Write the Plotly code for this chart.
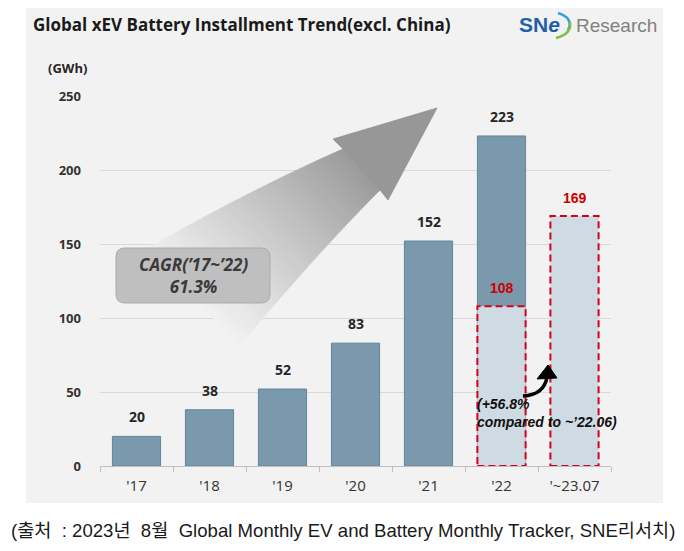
import plotly.graph_objects as go

# ---------------- data ----------------
categories = ["'17", "'18", "'19", "'20", "'21", "'22", "'~23.07"]
annual_values = [20, 38, 52, 83, 152, 223, None]
partial_values = [None, None, None, None, None, 108, 169]
y_ticks = [0, 50, 100, 150, 200, 250]
cagr_text = "CAGR(’17~’22)<br>61.3%"
growth_text = "(+56.8%<br>compared to ~’22.06)"
title_text = "Global xEV Battery Installment Trend(excl. China)"
unit_text = "(GWh)"
source_text = "(출처\u00a0\u00a0: 2023년\u00a0\u00a08월\u00a0\u00a0Global Monthly EV and Battery Monthly Tracker, SNE리서치)"

# ---------------- geometry helpers (screen pixel -> paper) ----------------
# the page body has an 8px margin, so the figure is drawn 8px in from the window
OFF = 8
W, H = 684 - OFF, 551 - OFF
PL, PR, PT, PB = 100, 611, 96, 466   # plot area in screen pixels


def px(x):
    return (x - PL) / (PR - PL)


def py(y):
    return (PB - y) / (PB - PT)


def path_from(points, close=True):
    s = "M " + " L ".join(f"{px(x):.5f},{py(y):.5f}" for x, y in points)
    return s + (" Z" if close else "")


BG = "#f2f2f2"
DARK = "#7a99ac"
LIGHT = "#cfdbe3"
RED = "#d9001b"
BAR_W = 0.66

fig = go.Figure()

fig.add_trace(go.Bar(
    x=categories, y=annual_values, width=BAR_W,
    marker=dict(color=DARK, line=dict(color="#62849a", width=1)),
    hoverinfo="skip", showlegend=False,
))
fig.add_trace(go.Bar(
    x=categories, y=partial_values, width=BAR_W,
    marker=dict(color=LIGHT, line=dict(width=0)),
    hoverinfo="skip", showlegend=False,
))

shapes = []
# grey panel
shapes.append(dict(type="rect", xref="paper", yref="paper",
                   x0=px(26), x1=px(663), y0=py(503), y1=py(8),
                   fillcolor=BG, line=dict(width=0), layer="below"))

# ---- gradient arrow (decoration) ----
def lerp(a, b, t):
    return (a[0] + (b[0] - a[0]) * t, a[1] + (b[1] - a[1]) * t)


def bez(p0, c, p1, t):
    a = lerp(p0, c, t)
    b = lerp(c, p1, t)
    return lerp(a, b, t)


u0, uc, u1 = (145, 250), (250, 190), (343, 149)
l0, lc, l1 = (240, 345), (318, 252), (380, 190)
N = 36
bgc = (242, 242, 242)
dk = (155, 155, 155)
for i in range(N):
    t0, t1 = i / N, (i + 1) / N
    a0, a1 = bez(u0, uc, u1, t0), bez(u0, uc, u1, t1)
    b0, b1 = bez(l0, lc, l1, t0), bez(l0, lc, l1, t1)
    tm = ((t0 + t1) / 2) ** 1.0
    col = tuple(int(bgc[k] + (dk[k] - bgc[k]) * tm) for k in range(3))
    c = "rgb(%d,%d,%d)" % col
    shapes.append(dict(type="path", xref="paper", yref="paper",
                       path=path_from([a0, a1, b1, b0]),
                       fillcolor=c, line=dict(color=c, width=0.8), layer="above"))
shapes.append(dict(type="path", xref="paper", yref="paper",
                   path=path_from([(343, 149), (333, 139), (437, 108), (388, 200), (380, 190)]),
                   fillcolor="#979797", line=dict(color="#929292", width=0.8), layer="above"))

# ---- CAGR rounded box ----
bx0, bx1, by0, by1, r = 116, 270, 248, 303, 9
box = (f"M {px(bx0 + r):.5f},{py(by0):.5f} L {px(bx1 - r):.5f},{py(by0):.5f} "
       f"Q {px(bx1):.5f},{py(by0):.5f} {px(bx1):.5f},{py(by0 + r):.5f} "
       f"L {px(bx1):.5f},{py(by1 - r):.5f} "
       f"Q {px(bx1):.5f},{py(by1):.5f} {px(bx1 - r):.5f},{py(by1):.5f} "
       f"L {px(bx0 + r):.5f},{py(by1):.5f} "
       f"Q {px(bx0):.5f},{py(by1):.5f} {px(bx0):.5f},{py(by1 - r):.5f} "
       f"L {px(bx0):.5f},{py(by0 + r):.5f} "
       f"Q {px(bx0):.5f},{py(by0):.5f} {px(bx0 + r):.5f},{py(by0):.5f} Z")
shapes.append(dict(type="path", xref="paper", yref="paper", path=box,
                   fillcolor="#bfbfbf", line=dict(color="#ababab", width=1), layer="above"))

# ---- dashed red outlines around partial bars ----
for i, v in enumerate(partial_values):
    if v is not None:
        shapes.append(dict(type="rect", xref="x", yref="y",
                           x0=i - BAR_W / 2, x1=i + BAR_W / 2, y0=0, y1=v,
                           line=dict(color=RED, width=2, dash="7px,4px"),
                           fillcolor="rgba(0,0,0,0)", layer="above"))

# ---- small curved black arrow ----
shapes.append(dict(type="path", xref="paper", yref="paper",
                   path=(f"M {px(523):.5f},{py(396):.5f} Q {px(544):.5f},{py(395):.5f} "
                         f"{px(547):.5f},{py(377):.5f}"),
                   line=dict(color="black", width=3.5), layer="above"))
shapes.append(dict(type="path", xref="paper", yref="paper",
                   path=path_from([(537, 379), (548, 365), (557, 378)]),
                   fillcolor="black", line=dict(color="black", width=1), layer="above"))

# ---- logo arcs ----
shapes.append(dict(type="path", xref="paper", yref="paper",
                   path=(f"M {px(558):.5f},{py(13):.5f} Q {px(574):.5f},{py(18):.5f} "
                         f"{px(568):.5f},{py(30):.5f}"),
                   line=dict(color="#3aa0dc", width=2.5), layer="above"))
shapes.append(dict(type="path", xref="paper", yref="paper",
                   path=(f"M {px(570):.5f},{py(22):.5f} Q {px(572):.5f},{py(34):.5f} "
                         f"{px(556):.5f},{py(38):.5f}"),
                   line=dict(color="#7ac143", width=2.5), layer="above"))

annotations = []
# value labels
for i, v in enumerate(annual_values):
    if v is not None:
        annotations.append(dict(x=categories[i], y=v, xref="x", yref="y", text=str(v),
                                showarrow=False, yanchor="bottom", yshift=8,
                                font=dict(family="Open Sans", size=14, color="#262626", weight="bold")))
for i, v in enumerate(partial_values):
    if v is not None:
        annotations.append(dict(x=categories[i], y=v, xref="x", yref="y", text=str(v),
                                showarrow=False, yanchor="bottom", yshift=8,
                                font=dict(family="Liberation Sans", size=14, color="#cc0000", weight="bold")))

annotations += [
    dict(x=px(31), y=py(25), xref="paper", yref="paper", text=title_text, showarrow=False,
         xanchor="left", yanchor="middle",
         font=dict(family="Open Sans", size=17, color="#1a1a1a", weight="bold")),
    dict(x=px(46), y=py(68), xref="paper", yref="paper", text=unit_text, showarrow=False,
         xanchor="left", yanchor="middle",
         font=dict(family="Open Sans", size=13, color="#262626", weight="bold")),
    dict(x=px(193), y=py(275.5), xref="paper", yref="paper", text=cagr_text, showarrow=False,
         xanchor="center", yanchor="middle",
         font=dict(family="Open Sans", size=17, color="#3a3a3a", weight="bold", style="italic")),
    dict(x=px(475), y=py(413), xref="paper", yref="paper", text=growth_text, showarrow=False,
         xanchor="left", yanchor="middle", align="left",
         font=dict(family="Liberation Sans", size=14, color="#111111", weight="bold", style="italic")),
    dict(x=px(517), y=py(25), xref="paper", yref="paper", text="SN<i>e</i>", showarrow=False,
         xanchor="left", yanchor="middle",
         font=dict(family="Liberation Sans", size=21, color="#1f5fa8", weight="bold")),
    dict(x=px(574), y=py(26), xref="paper", yref="paper", text="Research", showarrow=False,
         xanchor="left", yanchor="middle",
         font=dict(family="Liberation Sans", size=19, color="#808080")),
    dict(x=px(343), y=py(530), xref="paper", yref="paper", text=source_text, showarrow=False,
         xanchor="center", yanchor="middle",
         font=dict(family="Liberation Sans, Noto Sans CJK KR", size=18.6, color="#1a1a1a")),
]

fig.update_layout(
    width=W, height=H,
    margin=dict(l=PL - OFF, r=684 - PR, t=PT - OFF, b=551 - PB, pad=0),
    paper_bgcolor="white", plot_bgcolor="rgba(0,0,0,0)",
    barmode="overlay", showlegend=False,
    shapes=shapes, annotations=annotations,
    xaxis=dict(type="category", range=[-0.5, 6.5], showgrid=False,
               showline=True, linecolor="#bfbfbf", linewidth=1,
               ticks="outside", tickson="boundaries", ticklen=5, tickcolor="#bfbfbf",
               tickfont=dict(family="Open Sans", size=15, color="#333333"),
               ticklabelstandoff=6, fixedrange=True),
    yaxis=dict(range=[0, 250], tickvals=y_ticks, showgrid=True, gridcolor="#d9d9d9",
               gridwidth=1, zeroline=False, showline=False, ticks="",
               tickfont=dict(family="Open Sans", size=13, color="#333333", weight="bold"),
               ticklabelstandoff=18, fixedrange=True),
)

fig.write_html("out.html")
